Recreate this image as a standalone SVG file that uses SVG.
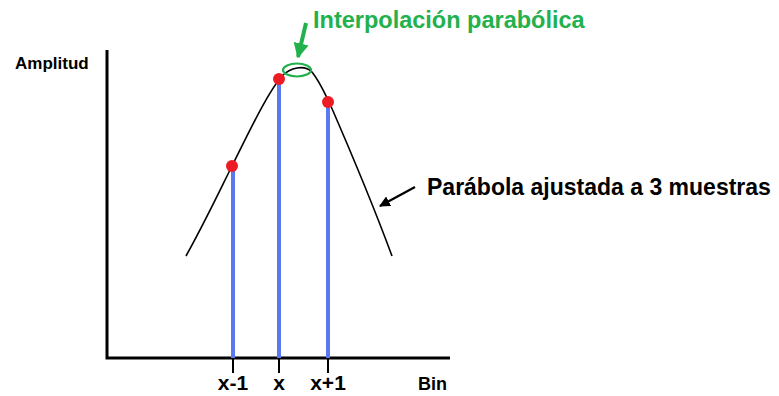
<svg xmlns="http://www.w3.org/2000/svg" width="779" height="396" viewBox="0 0 779 396">
<defs>
<style>
text{font-family:"Liberation Sans",Arial,sans-serif;font-weight:bold;}
.lbl{fill:#000;}
.axis{stroke:#000;stroke-width:3;fill:none;}
.tick{stroke:#000;stroke-width:2;}
.bar{stroke:#5a78f0;stroke-width:4;}
.dot{fill:#ed1c24;}
</style>
<marker id="ab" viewBox="0 0 10 10" refX="9" refY="5" markerWidth="5" markerHeight="5" orient="auto" markerUnits="strokeWidth"><path d="M0,0 L10,5 L0,10 z" fill="#000"/></marker>
<marker id="ag" viewBox="0 0 10 10" refX="9" refY="5" markerWidth="3.8" markerHeight="4" orient="auto" markerUnits="strokeWidth"><path d="M0,0 L10,5 L0,10 z" fill="#22b14c"/></marker>
</defs>
<rect width="779" height="396" fill="#fff"/>
<g id="axes">
<path class="axis" d="M107,50 L107,358 L450,358"/>
<line class="tick" x1="233" y1="358" x2="233" y2="373"/>
<line class="tick" x1="279" y1="358" x2="279" y2="373"/>
<line class="tick" x1="328" y1="358" x2="328" y2="373"/>
</g>
<g id="curve">
<path d="M186,256 C205,222 220,190 232,166 C250,130 268,92 282,76 C290,68 304,64 312,72 C320,82 325,94 330,104 C350,150 375,210 392,256" fill="none" stroke="#000" stroke-width="1.6"/>
</g>
<g id="sample-x-1"><line class="bar" x1="233" y1="166" x2="233" y2="358"/><circle class="dot" cx="232" cy="166" r="6"/></g>
<g id="sample-x"><line class="bar" x1="279" y1="79" x2="279" y2="358"/><circle class="dot" cx="279" cy="79" r="6"/></g>
<g id="sample-x+1"><line class="bar" x1="328" y1="102" x2="328" y2="358"/><circle class="dot" cx="328" cy="102" r="6"/></g>
<g id="peak"><ellipse cx="297" cy="70" rx="14" ry="6.5" fill="none" stroke="#22b14c" stroke-width="2.2"/></g>
<g id="connectors">
<line x1="306" y1="23" x2="298" y2="57" stroke="#22b14c" stroke-width="4" marker-end="url(#ag)"/>
<line x1="415" y1="187" x2="380" y2="206" stroke="#000" stroke-width="2.2" marker-end="url(#ab)"/>
</g>
<g id="labels">
<text x="313" y="28" font-size="23.5" fill="#22b14c">Interpolación parabólica</text>
<text class="lbl" x="15" y="69" font-size="17">Amplitud</text>
<text class="lbl" x="427" y="195" font-size="23">Parábola ajustada a 3 muestras</text>
<text class="lbl" x="233" y="390" font-size="21" text-anchor="middle">x-1</text>
<text class="lbl" x="279" y="390" font-size="21" text-anchor="middle">x</text>
<text class="lbl" x="328" y="390" font-size="21" text-anchor="middle">x+1</text>
<text class="lbl" x="418" y="390" font-size="18">Bin</text>
</g>
</svg>
